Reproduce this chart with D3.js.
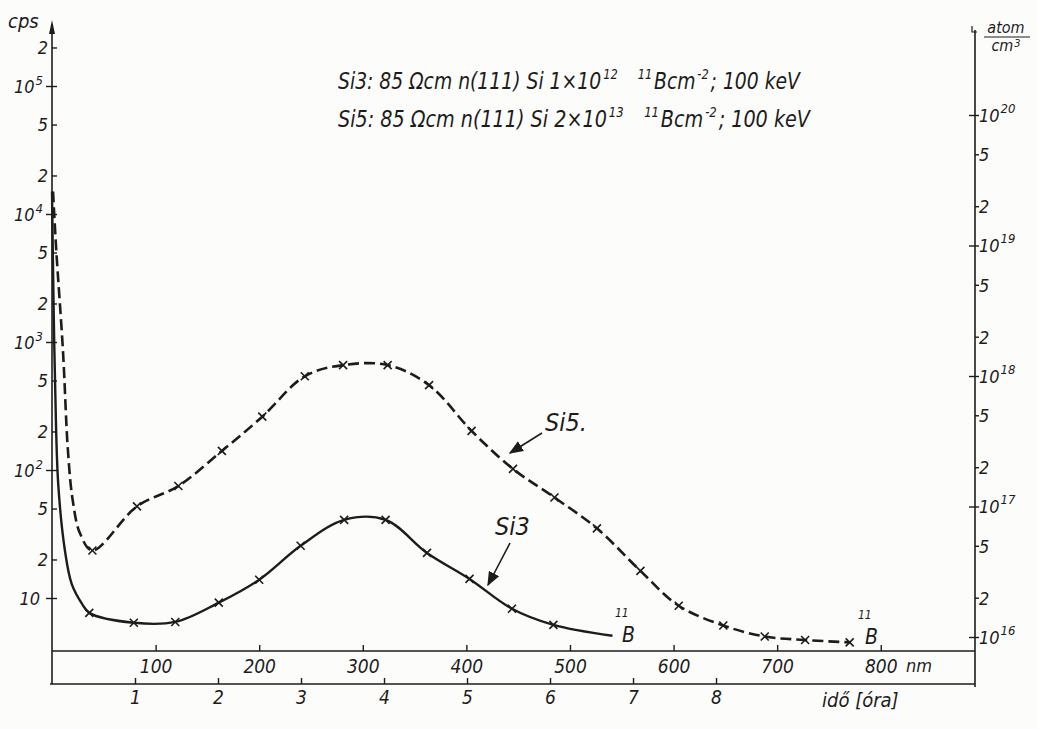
<!DOCTYPE html>
<html><head><meta charset="utf-8">
<script src="https://cdn.jsdelivr.net/npm/d3@7"></script>
<style>
html,body{margin:0;padding:0;background:#fcfcfb;}
svg text{font-family:"Liberation Sans Narrow","DejaVu Sans Condensed","Liberation Sans",sans-serif;font-style:italic;fill:#1c1c1c;}
</style></head><body>
<svg id="chart" width="1037" height="729"></svg>
<script>
// ---------- data ----------
const nmTicks = [100, 200, 300, 400, 500, 600, 700, 800];
const hourTicks = [1, 2, 3, 4, 5, 6, 7, 8];
const cpsTicks = [10, 20, 50, 100, 200, 500, 1000, 2000, 5000, 10000, 20000, 50000, 100000, 200000];
const atomTicks = [1e16, 2e16, 5e16, 1e17, 2e17, 5e17, 1e18, 2e18, 5e18, 1e19, 2e19, 5e19, 1e20];

// Si5 (dashed): depth in nm, counts per second
const si5Depth = [1, 4, 10.6, 15.4, 20, 27, 39, 82, 122, 164, 203, 244, 281, 324, 364, 405, 445, 485, 526, 568, 605, 648, 688, 727, 770];
const si5Cps   = [15000, 5400, 850, 141, 58, 32, 23.5, 52, 75, 141, 261, 540, 660, 660, 460, 202, 102, 61, 35, 16.3, 8.7, 6.1, 5.0, 4.7, 4.5];
const si5Mark  = [0, 0, 0, 0, 0, 0, 1, 1, 1, 1, 1, 1, 1, 1, 1, 1, 1, 1, 1, 1, 1, 1, 1, 1, 1];

// Si3 (solid)
const si3Depth = [0, 1.5, 3, 6, 12.5, 19, 29, 36, 79, 119, 161, 200, 240, 282, 322, 362, 403, 444, 484, 541];
const si3Cps   = [15000, 2000, 470, 78, 23.4, 12.9, 9.0, 7.65, 6.4, 6.5, 9.2, 13.9, 25.6, 40.8, 40.8, 22.5, 14.1, 8.25, 6.17, 5.07];
const si3Mark  = [0, 0, 0, 0, 0, 0, 0, 1, 1, 1, 1, 1, 1, 1, 1, 1, 1, 1, 1, 0];

// title pieces: [text, superscript?, gap before]
const titleLines = [
  [["Si3: 85 Ωcm n(111) Si  1×10", 0, 0], ["12", 1, 2], ["11", 1, 22], ["Bcm", 0, 2], ["-2", 1, 2], ["; 100 keV", 0, 2]],
  [["Si5: 85 Ωcm n(111) Si 2×10", 0, 0], ["13", 1, 2], ["11", 1, 22], ["Bcm", 0, 2], ["-2", 1, 2], ["; 100 keV", 0, 2]]
];
const titleWidths = [462, 472];

// ---------- layout ----------
const svg = d3.select("#chart");
const ink = "#1c1c1c";
const X0 = 52, XR = 975, YNM = 651, YBOT = 684;

const x = d3.scaleLinear().domain([0, 890]).range([X0, 974]);
const xh = d3.scaleLinear().domain([0, 11.12]).range([X0, XR]);
const yL = d3.scaleLog().domain([10, 1e5]).range([598, 86]);
const yR = d3.scaleLog().domain([1e16, 1e20]).range([637, 115]);

const isDecade = v => Math.abs(Math.log10(v) - Math.round(Math.log10(v))) < 1e-9;
const mant = v => Math.round(v / Math.pow(10, Math.floor(Math.log10(v) + 1e-9)));

// frame lines
svg.append("line").attr("x1", X0).attr("x2", X0).attr("y1", 24).attr("y2", YBOT).attr("stroke", ink).attr("stroke-width", 1.6);
svg.append("path").attr("d", `M${X0-3},34 L${X0},20 L${X0+3},34 Z`).attr("fill", ink);
svg.append("line").attr("x1", XR).attr("x2", XR).attr("y1", 30).attr("y2", YBOT + 3).attr("stroke", ink).attr("stroke-width", 1.6);
svg.append("path").attr("d", `M${XR-3},26 L${XR-3},32 L${XR+2},32`).attr("fill", "none").attr("stroke", ink).attr("stroke-width", 1.2);
svg.append("line").attr("x1", X0).attr("x2", XR).attr("y1", YNM).attr("y2", YNM).attr("stroke", ink).attr("stroke-width", 1.6);
svg.append("line").attr("x1", X0 - 2).attr("x2", XR).attr("y1", YBOT).attr("y2", YBOT).attr("stroke", ink).attr("stroke-width", 1.6);

// left axis (cps)
const gL = svg.append("g").attr("transform", `translate(${X0},0)`)
  .call(d3.axisLeft(yL).tickValues(cpsTicks).tickSize(0).tickFormat(""));
gL.select(".domain").remove();
gL.selectAll(".tick").each(function(d) {
  const g = d3.select(this);
  const dec = isDecade(d);
  g.append("line").attr("x1", dec ? -6 : 0).attr("x2", 5).attr("stroke", ink).attr("stroke-width", 1.4);
  const t = g.append("text").attr("text-anchor", "end").attr("dy", "0.35em").attr("font-size", 18);
  if (dec) {
    const e = Math.round(Math.log10(d));
    t.attr("x", e > 1 ? -9 : -12);
    t.append("tspan").text("10");
    if (e > 1) t.append("tspan").attr("dy", -8).attr("dx", 1).attr("font-size", 13).text(e);
  } else {
    t.attr("x", -4).text(mant(d));
  }
});

// right axis (atom/cm3)
const gR = svg.append("g").attr("transform", `translate(${XR},0)`)
  .call(d3.axisRight(yR).tickValues(atomTicks).tickSize(0).tickFormat(""));
gR.select(".domain").remove();
gR.selectAll(".tick").each(function(d) {
  const g = d3.select(this);
  const dec = isDecade(d);
  g.append("line").attr("x1", dec ? -6 : 0).attr("x2", 4).attr("stroke", ink).attr("stroke-width", 1.4);
  const t = g.append("text").attr("text-anchor", "start").attr("dy", "0.35em").attr("font-size", 18);
  if (dec) {
    t.attr("x", 4);
    t.append("tspan").text("10");
    t.append("tspan").attr("dy", -9).attr("dx", 1).attr("font-size", 13).text(Math.round(Math.log10(d)));
  } else {
    t.attr("x", 4).text(mant(d));
  }
});

// bottom nm axis
const gN = svg.append("g").attr("transform", `translate(0,${YNM})`)
  .call(d3.axisTop(x).tickValues(nmTicks).tickSize(6).tickFormat(""));
gN.select(".domain").remove();
gN.selectAll(".tick line").attr("stroke", ink).attr("stroke-width", 1.4);
gN.selectAll(".tick").append("text").attr("y", 22).attr("text-anchor", "middle").attr("font-size", 19).text(d => d);
svg.append("text").attr("x", 906).attr("y", 672).attr("font-size", 18).text("nm");

// bottom time axis
const gH = svg.append("g").attr("transform", `translate(0,${YBOT})`)
  .call(d3.axisTop(xh).tickValues(hourTicks).tickSize(6).tickFormat(""));
gH.select(".domain").remove();
gH.selectAll(".tick line").attr("stroke", ink).attr("stroke-width", 1.4);
gH.selectAll(".tick").append("text").attr("y", 20).attr("text-anchor", "middle").attr("font-size", 19).text(d => d);
svg.append("text").attr("x", 822).attr("y", 707).attr("font-size", 20).text("idő [óra]");

// axis titles
svg.append("text").attr("x", 8).attr("y", 28).attr("font-size", 20).text("cps");
const at = svg.append("g");
at.append("text").attr("x", 1006).attr("y", 33).attr("text-anchor", "middle").attr("font-size", 16).text("atom");
at.append("line").attr("x1", 984).attr("x2", 1030).attr("y1", 37).attr("y2", 37).attr("stroke", ink).attr("stroke-width", 1.2);
const cm = at.append("text").attr("x", 1006).attr("y", 51).attr("text-anchor", "middle").attr("font-size", 16);
cm.append("tspan").text("cm");
cm.append("tspan").attr("dy", -4).attr("dx", 1).attr("font-size", 11).text("3");

// title lines: pieces placed one after another, then scaled to the drawn width
titleLines.forEach((parts, i) => {
  const by = 89 + i * 38;
  const g = svg.append("g");
  let cx = 0;
  parts.forEach(([txt, sup, gap]) => {
    cx += gap;
    const t = g.append("text").attr("x", cx).attr("y", sup ? -10 : 0)
      .attr("font-size", sup ? 14 : 23).text(txt);
    cx += t.node().getComputedTextLength();
  });
  const k = titleWidths[i] / cx;
  g.attr("transform", `translate(338,${by}) scale(${k},1)`);
});

// curves
const line = d3.line().x(d => x(d[0])).y(d => yL(d[1])).curve(d3.curveCatmullRom.alpha(0.5));
const si5 = si5Depth.map((d, i) => [d, si5Cps[i], si5Mark[i]]);
const si3 = si3Depth.map((d, i) => [d, si3Cps[i], si3Mark[i]]);

svg.append("path").datum(si5).attr("d", line).attr("fill", "none").attr("stroke", ink)
  .attr("stroke-width", 2.6).attr("stroke-dasharray", "11,5");
svg.append("path").datum(si3).attr("d", line).attr("fill", "none").attr("stroke", ink)
  .attr("stroke-width", 2.4);

function crosses(data) {
  svg.append("g").selectAll("path").data(data.filter(d => d[2])).join("path")
    .attr("d", d => {
      const cx = x(d[0]), cy = yL(d[1]), s = 4;
      return `M${cx-s},${cy-s}L${cx+s},${cy+s}M${cx-s},${cy+s}L${cx+s},${cy-s}`;
    })
    .attr("stroke", ink).attr("stroke-width", 1.6);
}
crosses(si5);
crosses(si3);

// labels with arrows
svg.append("defs").append("marker").attr("id", "ah").attr("viewBox", "0 0 10 10")
  .attr("refX", 9).attr("refY", 5).attr("markerWidth", 9).attr("markerHeight", 9).attr("orient", "auto")
  .append("path").attr("d", "M0,1 L10,5 L0,9 Z").attr("fill", ink);

svg.append("text").attr("x", 545).attr("y", 431).attr("font-size", 25).text("Si5.");
svg.append("line").attr("x1", 542).attr("y1", 433).attr("x2", 510).attr("y2", 453)
  .attr("stroke", ink).attr("stroke-width", 1.6).attr("marker-end", "url(#ah)");
svg.append("text").attr("x", 495).attr("y", 535).attr("font-size", 25).text("Si3");
svg.append("line").attr("x1", 510).attr("y1", 543).attr("x2", 488).attr("y2", 585)
  .attr("stroke", ink).attr("stroke-width", 1.6).attr("marker-end", "url(#ah)");

function isoLabel(lx, ly) {
  svg.append("text").attr("x", lx).attr("y", ly).attr("font-size", 12).text("11");
  svg.append("text").attr("x", lx + 7).attr("y", ly + 25).attr("font-size", 21).text("B");
}
isoLabel(615, 617);
isoLabel(858, 619);
</script>
</body></html>
